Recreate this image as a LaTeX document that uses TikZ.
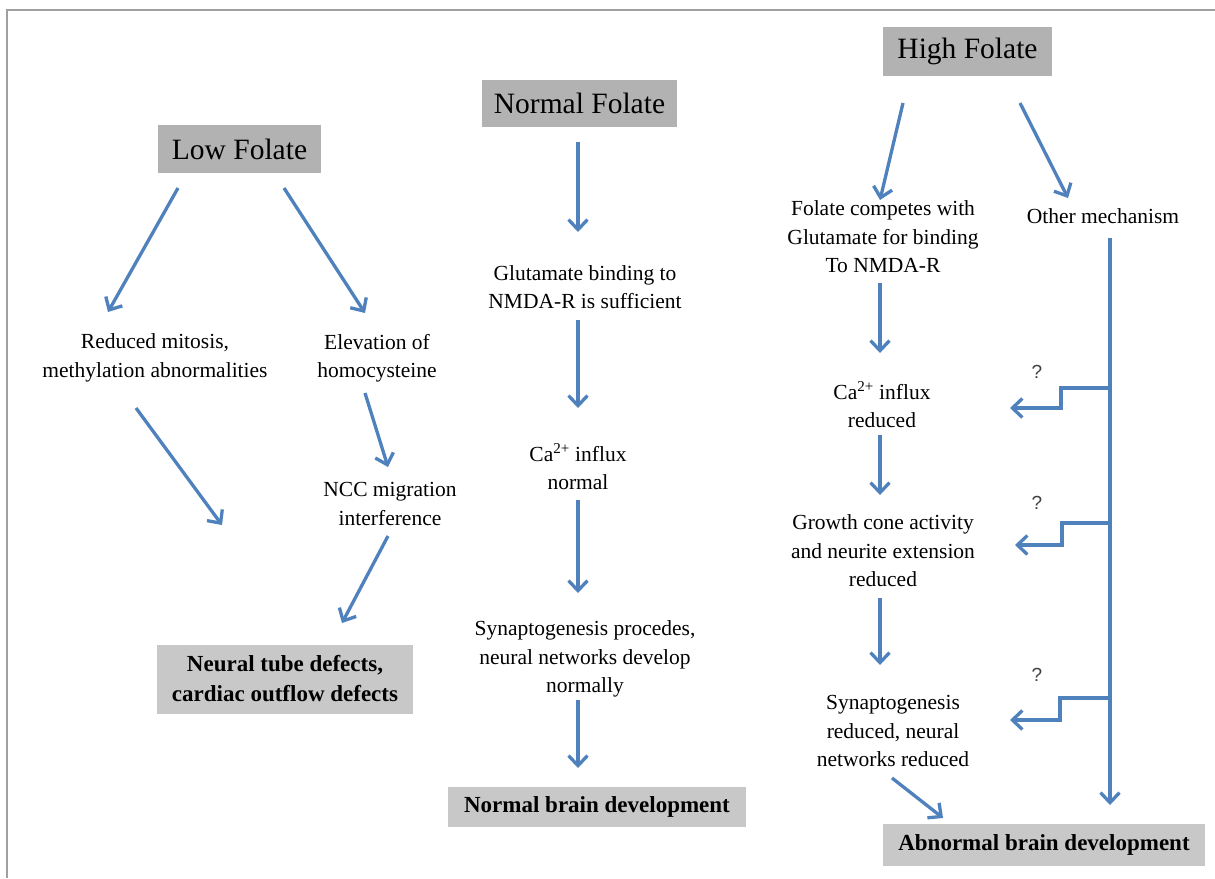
\documentclass[tikz,border=0pt]{standalone}
\usepackage{fontspec}
\setmainfont{Liberation Serif}
\setsansfont{Liberation Sans}
\usetikzlibrary{arrows.meta}
\definecolor{arrblue}{RGB}{79,129,189}
\definecolor{headgray}{RGB}{178,178,178}
\definecolor{footgray}{RGB}{200,200,200}
\definecolor{framegray}{RGB}{160,160,160}
\tikzset{
  arr/.style={draw=arrblue, line width=3.3pt, -{Straight Barb[length=10pt,width=19pt,line width=3.3pt]}},
  head/.style={fill=headgray, inner sep=0pt, font=\fontsize{29.5}{34}\selectfont},
  foot/.style={fill=footgray, inner sep=0pt, align=center, font=\fontsize{23}{30}\selectfont\bfseries},
  txt/.style={inner sep=0pt, align=center, font=\fontsize{21.5}{28.5}\selectfont},
  qm/.style={inner sep=0pt, font=\sffamily\fontsize{19}{21}\selectfont, text=black!75}
}
\begin{document}
\begin{tikzpicture}[x=1pt,y=-1pt]
\useasboundingbox (0,0) rectangle (1215,878);
\fill[white] (0,0) rectangle (1215,878);
\draw[framegray, line width=2pt] (7,878) -- (7,10) -- (1215,10);

% headers
\node[head, minimum width=163, minimum height=48] (lowf) at (239.5,149) {Low Folate};
\node[head, minimum width=195, minimum height=47] (normf) at (579.5,103.5) {Normal Folate};
\node[head, minimum width=169, minimum height=49] (highf) at (967.5,51.5) {High Folate};

% left column
\node[txt] (red) at (155,358) {Reduced mitosis,\\methylation abnormalities};
\node[txt] (elev) at (377,358) {Elevation of\\homocysteine};
\node[txt] (ncc) at (390,504) {NCC migration\\interference};
\node[foot, minimum width=256, minimum height=69] (ntd) at (285,679) {Neural tube defects,\\cardiac outflow defects};

% middle column
\node[txt] (glu) at (585,287) {Glutamate binding to\\NMDA-R is sufficient};
\node[txt] (can) at (578,467) {Ca\textsuperscript{2+} influx\\normal};
\node[txt] (syn) at (585,659) {Synaptogenesis procedes,\\neural networks develop\\normally};
\node[foot, minimum width=298, minimum height=40] (nbd) at (597,807) {Normal brain development};

% right column
\node[txt] (fol) at (883,237) {Folate competes with\\Glutamate for binding\\To NMDA-R};
\node[txt] (oth) at (1103,216) {Other mechanism};
\node[txt] (car) at (882,405) {Ca\textsuperscript{2+} influx\\reduced};
\node[txt] (gro) at (883,551) {Growth cone activity\\and neurite extension\\reduced};
\node[txt] (synr) at (893,731) {Synaptogenesis\\reduced, neural\\networks reduced};
\node[foot, minimum width=322, minimum height=42] (abd) at (1044,845) {Abnormal brain development};

\node[qm] (q1) at (1037,372) {?};
\node[qm] (q2) at (1037,503) {?};
\node[qm] (q3) at (1037,675) {?};

% left arrows
\draw[arr] ([shift={(-61.5,39)}]lowf.center) -- ([shift={(-47,-46)}]red.center);
\draw[arr] ([shift={(44.5,39)}]lowf.center) -- ([shift={(-12,-45)}]elev.center);
\draw[arr] ([shift={(-19,50)}]red.center) -- ([shift={(-63,-154)}]ntd.center);
\draw[arr] ([shift={(-12,35)}]elev.center) -- ([shift={(-2,-37)}]ncc.center);
\draw[arr] ([shift={(-2,32)}]ncc.center) -- ([shift={(57,-56)}]ntd.center);

% middle arrows
\draw[arr] ([shift={(-1.5,38.5)}]normf.center) -- ([shift={(-7,-55)}]glu.center);
\draw[arr] ([shift={(-7,33)}]glu.center) -- ([shift={(0,-59)}]can.center);
\draw[arr] ([shift={(0,33)}]can.center) -- ([shift={(-7,-66)}]syn.center);
\draw[arr] ([shift={(-7,41)}]syn.center) -- ([shift={(-19,-39)}]nbd.center);

% right arrows
\draw[arr] ([shift={(-64.5,51.5)}]highf.center) -- ([shift={(-3,-37)}]fol.center);
\draw[arr] ([shift={(52.5,51.5)}]highf.center) -- ([shift={(-35,-18)}]oth.center);
\draw[arr] ([shift={(-3,46)}]fol.center) -- ([shift={(-2,-52)}]car.center);
\draw[arr] ([shift={(-2,30)}]car.center) -- ([shift={(-3,-56)}]gro.center);
\draw[arr] ([shift={(-3,47)}]gro.center) -- ([shift={(-13,-66)}]synr.center);
\draw[arr] ([shift={(-1,47)}]synr.center) -- ([shift={(-101,-27)}]abd.center);
\draw[arr] ([shift={(7,22)}]oth.center) -- ([shift={(66,-40)}]abd.center);

% branches from other mechanism line
\coordinate (b1) at (1110,388);
\coordinate (b2) at (1110,523);
\coordinate (b3) at (1110,698);
\draw[arr] (b1) -- ++(-49,0) -- ++(0,20) -- ([shift={(128,3)}]car.center);
\draw[arr] (b2) -- ++(-48,0) -- ++(0,22) -- ([shift={(132,-6)}]gro.center);
\draw[arr] (b3) -- ++(-50,0) -- ++(0,22) -- ([shift={(117,-11)}]synr.center);
\end{tikzpicture}
\end{document}
